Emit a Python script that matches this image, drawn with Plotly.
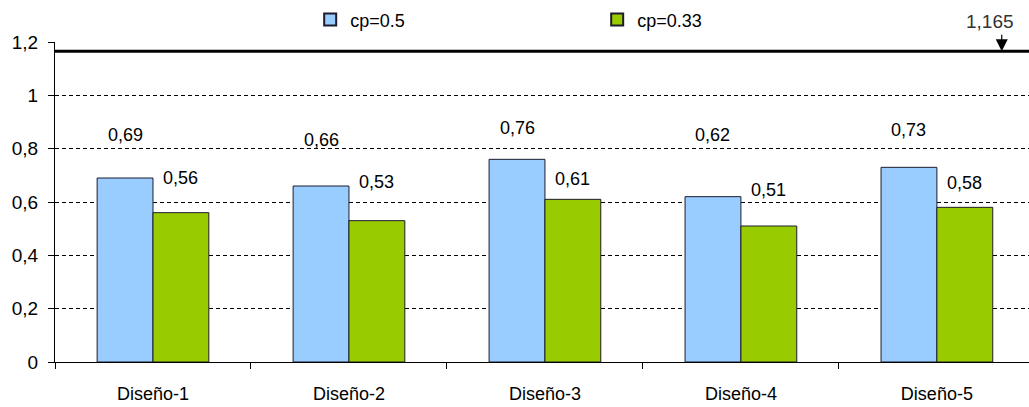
import plotly.graph_objects as go

# Data
categories = ["Diseño-1", "Diseño-2", "Diseño-3", "Diseño-4", "Diseño-5"]
cp_050 = [0.69, 0.66, 0.76, 0.62, 0.73]
cp_033 = [0.56, 0.53, 0.61, 0.51, 0.58]
series_names = ["cp=0.5", "cp=0.33"]
limit_value = 1.165
limit_label = "1,165"
y_ticks = [0, 0.2, 0.4, 0.6, 0.8, 1.0, 1.2]
y_tick_text = ["0", "0,2", "0,4", "0,6", "0,8", "1", "1,2"]

# Label placement (pixel lift of each value label above its bar)
lift_050 = [43, 46, 31, 62, 37]
lift_033 = [35, 39, 20, 36, 24]

BLUE = "#99CCFF"
GREEN = "#99CC00"
EDGE = "#1c1c2c"
FONT = "Liberation Sans, Arial, sans-serif"
BARGAP = 0.43
CAT_PX = 196  # pixel width of one category on the x axis

fig = go.Figure()
fig.add_trace(go.Bar(x=categories, y=cp_050, name=series_names[0],
                     marker=dict(color=BLUE, line=dict(color=EDGE, width=1))))
fig.add_trace(go.Bar(x=categories, y=cp_033, name=series_names[1],
                     marker=dict(color=GREEN, line=dict(color=EDGE, width=1))))

def fmt(v):
    return f"{v:.2f}".replace(".", ",")

bar_w = (1 - BARGAP) / 2
shift = bar_w / 2 * CAT_PX
annotations = []
for cat, v1, v2, l1, l2 in zip(categories, cp_050, cp_033, lift_050, lift_033):
    annotations.append(dict(x=cat, y=v1, xref="x", yref="y", text=fmt(v1),
                            showarrow=False, xshift=-shift, yshift=l1,
                            yanchor="middle", font=dict(size=18, color="#000")))
    annotations.append(dict(x=cat, y=v2, xref="x", yref="y", text=fmt(v2),
                            showarrow=False, xshift=shift, yshift=l2,
                            yanchor="middle", font=dict(size=18, color="#000")))

# Arrow pointing at the limit line, plus its value
annotations.append(dict(x=0.972, y=limit_value, xref="paper", yref="y", text="",
                        showarrow=True, ax=0, ay=-18, arrowhead=2, arrowsize=2.0,
                        arrowwidth=1.2, arrowcolor="#000"))
annotations.append(dict(x=0.96, y=limit_value, xref="paper", yref="y",
                        text=limit_label, showarrow=False, yshift=30,
                        xanchor="center", yanchor="middle",
                        font=dict(size=19, color="#333")))

fig.add_shape(type="line", xref="paper", yref="y", x0=0, x1=1,
              y0=limit_value, y1=limit_value, line=dict(color="#000", width=3))

fig.update_layout(
    width=1029, height=407,
    margin=dict(l=55, r=0, t=42, b=45),
    paper_bgcolor="white", plot_bgcolor="white",
    barmode="group", bargap=BARGAP, bargroupgap=0,
    font=dict(family=FONT, size=18, color="#000"),
    annotations=annotations,
    showlegend=True,
    legend=dict(orientation="h", x=0.262, xanchor="left", y=1.069,
                yanchor="middle", entrywidth=242, entrywidthmode="pixels",
                font=dict(size=18), bgcolor="rgba(0,0,0,0)",
                itemsizing="constant"),
    xaxis=dict(range=[-0.5, 4.47], showline=True, linecolor="#000", linewidth=1,
               ticks="outside", tickson="boundaries", ticklen=6, tickcolor="#000",
               showgrid=False, tickfont=dict(size=18), ticklabelstandoff=15,
               fixedrange=True),
    yaxis=dict(range=[0, 1.2], tickvals=y_ticks, ticktext=y_tick_text,
               showline=True, linecolor="#000", linewidth=1,
               ticks="outside", ticklen=6, tickcolor="#000",
               showgrid=True, gridcolor="#000", gridwidth=1, griddash="4px,3px",
               zeroline=False, tickfont=dict(size=19), ticklabelstandoff=6),
)

fig.write_html("out.html")
